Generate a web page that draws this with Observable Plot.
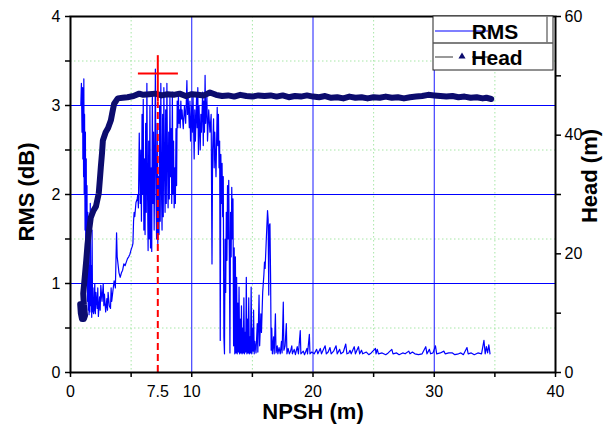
<!DOCTYPE html>
<html><head><meta charset="utf-8">
<script src="https://cdn.jsdelivr.net/npm/d3@7"></script>
<script src="https://cdn.jsdelivr.net/npm/@observablehq/plot@0.6"></script>
<style>body{margin:0;background:#fff} #chart{width:612px;height:427px}</style>
</head><body><div id="chart"></div>
<script>
// ---- data (NPSH m, RMS dB) ----
const rmsPoints = [
[0.85,3.0],[0.9,3.25],[0.95,2.7],[1.0,3.2],[1.02,2.4],[1.05,3.1],[1.08,2.2],[1.1,3.3],[1.13,2.0],[1.16,2.9],[1.2,1.6],[1.23,2.7],[1.26,1.3],[1.3,2.4],[1.33,1.0],[1.36,2.1],[1.4,0.8],[1.43,1.8],[1.46,0.7],[1.5,1.5],[1.53,0.65],[1.56,1.2],[1.6,0.68],[1.63,1.9],[1.66,0.75],[1.7,1.2],[1.75,0.62],[1.78,1.6],[1.82,0.68],[1.86,0.95],[1.9,0.66],
[1.95,0.7],[2.0,1.0],[2.05,0.66],[2.1,0.9],[2.2,0.72],[2.25,0.95],[2.3,0.63],[2.4,0.85],[2.45,0.7],[2.5,0.98],[2.6,0.8],[2.7,1.0],[2.75,0.75],[2.8,0.88],[2.9,0.68],[3.0,0.83],[3.05,0.7],[3.1,0.9],[3.2,0.75],[3.3,0.72],[3.35,0.95],[3.4,0.8],[3.5,0.92],[3.6,1.03],[3.7,0.95],[3.8,1.57],[3.85,1.3],[3.9,1.24],[4.0,1.12],[4.1,1.07],[4.2,1.12],[4.3,1.15],[4.4,1.22],[4.5,1.2],[4.6,1.24],[4.7,1.28],[4.8,1.3],[4.9,1.33],[5.0,1.38],[5.1,1.42],[5.15,1.45],[5.2,1.7],[5.25,1.8],[5.3,1.75],[5.4,1.91],[5.5,1.95],[5.55,2.0],[5.6,1.85],
[5.67,2.69],[5.75,1.9],[5.8,2.5],[5.85,1.7],[5.9,2.9],[5.95,2.0],[6.0,3.07],[6.05,1.6],[6.1,2.4],[6.15,1.55],[6.2,2.8],[6.25,1.8],[6.3,3.25],[6.35,2.1],[6.4,1.37],[6.45,2.6],[6.5,1.5],[6.55,3.0],[6.6,1.4],[6.65,2.3],[6.7,1.36],[6.75,3.15],[6.8,1.9],[6.85,2.7],[6.9,1.6],[6.95,2.4],[7.0,3.41],[7.05,2.0],[7.1,1.5],[7.15,2.8],[7.2,1.45],[7.25,2.2],[7.3,1.55],[7.35,3.0],[7.4,1.7],[7.45,3.25],[7.5,2.1],[7.55,1.6],[7.6,2.9],[7.65,1.75],[7.7,3.2],[7.75,2.3],[7.8,1.8],[7.85,2.95],[7.9,1.9],[7.95,3.25],[8.0,2.4],[8.05,1.85],[8.1,2.7],[8.15,1.95],[8.2,3.1],[8.25,2.2],[8.3,2.74],[8.35,1.9],[8.4,3.15],[8.45,2.0],[8.5,2.6],[8.55,1.85],[8.6,2.3],[8.65,1.9],[8.7,2.74],[8.75,2.1],[8.8,3.05],[8.85,2.75],[8.9,3.13],[8.95,2.8],[9.0,2.95],[9.05,2.75],[9.1,3.05],[9.15,2.85],[9.2,2.95],[9.3,2.74],[9.4,3.0],[9.5,2.8],[9.6,3.28],[9.65,2.9],[9.7,3.1],[9.8,2.75],[9.85,3.05],[9.9,2.6],[10.0,3.0],[10.05,2.7],[10.1,3.15],[10.2,2.4],[10.25,2.95],[10.3,2.6],[10.4,3.1],[10.45,2.75],[10.5,3.2],[10.55,2.45],[10.6,3.0],[10.7,2.5],[10.75,2.9],[10.8,2.7],[10.9,3.15],[10.95,2.55],[11.0,3.05],[11.05,2.7],[11.1,3.34],[11.15,2.8],[11.25,3.1],[11.3,2.6],[11.4,2.95],[11.5,2.7],[11.6,2.9],
[11.67,1.22],[11.72,2.5],[11.8,2.85],[11.85,2.3],[11.9,2.7],[12.0,2.2],[12.1,2.98],[12.15,2.55],[12.2,2.9],[12.25,2.3],[12.3,2.6],[12.35,0.36],[12.4,2.45],[12.45,1.9],[12.5,2.35],[12.55,1.75],[12.6,2.2],[12.65,0.4],[12.7,0.21],[12.75,1.5],[12.8,0.9],[12.85,1.8],[12.9,1.26],[12.95,2.1],[13.0,1.5],[13.05,2.16],[13.1,1.3],[13.15,0.22],[13.2,1.8],[13.25,1.3],[13.3,2.08],[13.35,1.5],[13.4,1.95],[13.45,0.3],[13.5,1.4],[13.55,0.21],[13.6,1.3],[13.65,0.22],[13.7,1.07],[13.75,0.21],[13.8,0.78],[13.85,0.23],[13.9,0.96],[13.95,0.21],[14.0,0.6],[14.05,0.22],[14.1,0.75],[14.15,0.21],[14.2,0.5],[14.25,0.22],[14.3,0.84],[14.35,0.21],[14.4,0.45],[14.45,0.23],[14.5,1.07],[14.55,0.21],[14.6,0.6],[14.65,0.22],[14.7,0.84],[14.75,0.21],[14.8,0.4],[14.85,0.22],[14.9,0.96],[14.95,0.21],[15.0,0.5],[15.05,0.24],[15.1,0.7],[15.15,0.21],[15.2,0.35],[15.3,0.22],[15.4,0.55],[15.45,0.23],[15.55,0.87],[15.6,0.3],[15.7,0.66],[15.75,0.45],[15.85,0.9],[15.95,1.1],[16.0,1.24],[16.05,1.17],[16.15,1.5],[16.25,1.82],[16.3,1.72],[16.35,0.87],[16.38,1.65],[16.45,1.67],[16.5,1.1],[16.55,0.25],[16.6,0.5],[16.65,0.21],[16.75,0.4],[16.8,0.21],[16.9,0.66],[16.95,0.22],[17.05,0.3],[17.1,0.21],[17.2,0.28],[17.3,0.21],[17.4,0.35],[17.45,0.22],[17.55,0.79],[17.6,0.25],[17.7,0.3],[17.8,0.55],[17.85,0.21],[17.95,0.27],[18.05,0.21],[18.15,0.24],[18.25,0.3],[18.3,0.21],[18.45,0.26],[18.55,0.2],[18.7,0.29],[18.8,0.21],[18.95,0.47],[19.0,0.21],[19.2,0.24],[19.3,0.2],[19.5,0.27],[19.55,0.21],[19.7,0.43],[19.75,0.21],[19.9,0.23],[20.1,0.21],[20.3,0.26],[20.4,0.21],[20.6,0.27],[20.7,0.21],
[21.0,0.3],[21.1,0.21],[21.25,0.23],[21.4,0.28],[21.5,0.21],[21.7,0.24],[21.9,0.3],[22.0,0.21],[22.2,0.26],[22.3,0.21],[22.5,0.23],[22.7,0.32],[22.8,0.21],[22.95,0.22],[23.05,0.25],[23.15,0.21],[23.4,0.29],[23.5,0.21],[23.75,0.29],[23.85,0.21],[24.0,0.25],[24.1,0.21],[24.4,0.23],[24.6,0.2],[24.8,0.22],[25.15,0.27],[25.2,0.21],[25.3,0.26],[25.4,0.21],[25.7,0.22],[26.0,0.2],[26.2,0.22],[26.5,0.26],[26.6,0.21],[26.9,0.22],[27.1,0.2],[27.4,0.22],[27.6,0.21],[27.9,0.24],[28.0,0.21],[28.2,0.23],[28.4,0.21],[28.7,0.2],[29.0,0.21],[29.3,0.29],[29.4,0.21],[29.6,0.26],[29.7,0.21],[29.9,0.22],[30.1,0.3],[30.2,0.21],[30.5,0.22],[30.8,0.24],[30.9,0.21],[31.2,0.22],[31.5,0.22],[31.7,0.2],[32.0,0.21],[32.2,0.22],[32.4,0.2],[32.7,0.28],[32.8,0.21],[33.05,0.22],[33.3,0.2],[33.6,0.22],[33.9,0.21],[34.1,0.36],[34.2,0.21],[34.3,0.29],[34.4,0.22],[34.5,0.31],[34.6,0.21]
];
// (NPSH m, Head m)
const headPoints = [
[0.8,11.5],[0.85,10.0],[0.95,9.0],[1.1,9.0],[1.2,9.6],[1.1,11.5],[1.05,13.3],[1.15,15.5],[1.3,18.9],[1.4,21.5],[1.5,23.4],[1.67,26.1],[1.9,27.3],[2.1,28.0],[2.33,30.2],[2.42,32.5],[2.5,34.6],[2.6,37.0],[2.67,39.1],[2.9,40.5],[3.1,41.2],[3.33,42.5],[3.45,43.8],[3.6,45.3],[3.9,46.2],[4.3,46.3],[4.7,46.4],[5.2,46.6],[5.67,47.0],
[6.0,46.8],[6.5,46.9],[7.0,47.0],[7.5,46.7],[8.0,46.9],[8.5,46.8],[9.0,47.0],[9.5,46.6],[10.0,46.9],[10.5,46.8],[11.0,46.7],[11.5,47.2],[12.0,46.8],[12.5,46.6],[13.0,46.7],[13.5,46.5],[14.0,46.8],[14.5,46.6],[15.0,46.5],[15.5,46.7],[16.0,46.6],[16.5,46.7],[17.0,46.5],[17.5,46.7],[18.0,46.4],[18.5,46.6],[19.0,46.5],[19.5,46.7],[20.0,46.5],[20.5,46.4],[21.0,46.6],[21.5,46.3],[22.0,46.4],[22.5,46.2],[23.0,46.5],[23.5,46.3],[24.0,46.4],[24.5,46.2],[25.0,46.4],[25.5,46.3],[26.0,46.5],[26.5,46.3],[27.0,46.4],[27.5,46.2],[28.0,46.4],[28.5,46.5],[29.0,46.6],[29.5,46.8],[30.0,46.7],[30.5,46.6],[31.0,46.5],[31.5,46.6],[32.0,46.4],[32.5,46.5],[33.0,46.3],[33.5,46.4],[34.0,46.2],[34.3,46.3],[34.7,46.1]
];
const criticalNpsh = 7.2;           // position of the red marker
const criticalLabel = "7.5";        // its tick label
const crossSpan = [5.6, 8.9];       // horizontal bar of the red cross (NPSH)
const crossLevel = 3.36;            // RMS of the horizontal bar
const crossTop = 3.56;              // top of the vertical red line (RMS)
const crossSolidEnd = 3.04;         // where the dashed part starts (RMS)
const xTicks = [0,5,10,15,20,25,30,35,40];
const xLabels = [0,10,20,30,40];
const yTicks = [0,0.5,1,1.5,2,2.5,3,3.5,4];
const yMajor = [1,2,3];
const yMinor = [0.5,1.5,2.5,3.5];
const xMajor = [10,20,30];
const xMinor = [5,15,25,35];
const headTicks = [0,10,20,30,40,50,60];
const headLabels = [0,20,40,60];
const headMax = 60, rmsMax = 4;
const h2y = h => h * rmsMax / headMax;

const F = "'Liberation Sans', Arial, sans-serif";
const plot = Plot.plot({
  width: 612, height: 427,
  marginLeft: 70, marginRight: 57, marginTop: 16, marginBottom: 55,
  x: {domain: [0, 40]},
  y: {domain: [0, 4]},
  style: {fontFamily: F, fontSize: "16px", background: "#fff", color: "#000"},
  marks: [
    Plot.ruleX(xMinor, {stroke: "#a6e6a6", strokeDasharray: "1.5,2.5", strokeWidth: 1}),
    Plot.ruleY(yMinor, {stroke: "#a6e6a6", strokeDasharray: "1.5,2.5", strokeWidth: 1}),
    Plot.ruleX(xMajor, {stroke: "#1a1aff", strokeWidth: 1}),
    Plot.ruleY(yMajor, {stroke: "#0000ff", strokeWidth: 1}),
    Plot.line(rmsPoints, {x: d => d[0], y: d => d[1], stroke: "#0000ff", strokeWidth: 1.2, strokeLinejoin: "round"}),
    Plot.line(headPoints, {x: d => d[0], y: d => h2y(d[1]), stroke: "#0c0c6e", strokeWidth: 6, strokeLinejoin: "round", strokeLinecap: "round"}),
    Plot.ruleX([criticalNpsh], {y1: 0, y2: crossSolidEnd, stroke: "#ff0000", strokeWidth: 2, strokeDasharray: "7,4"}),
    Plot.ruleX([criticalNpsh], {y1: crossSolidEnd, y2: crossTop, stroke: "#ff0000", strokeWidth: 2}),
    Plot.ruleY([crossLevel], {x1: crossSpan[0], x2: crossSpan[1], stroke: "#ff0000", strokeWidth: 2}),
    Plot.frame({stroke: "#000", strokeWidth: 2}),
    Plot.axisY(yTicks, {anchor: "left", tickSize: 5, tickPadding: 5, tickFormat: d => Number.isInteger(d) ? d : "", label: null, strokeWidth: 1.5}),
    Plot.axisX(xTicks, {anchor: "bottom", tickSize: 5, tickPadding: 8, tickFormat: d => xLabels.includes(d) ? d : "", label: null, strokeWidth: 1.5}),
    Plot.axisX([criticalNpsh], {anchor: "bottom", tickSize: 0, tickPadding: 13, tickFormat: () => criticalLabel, label: null}),
    Plot.axisY(headTicks.map(h2y), {anchor: "right", tickSize: 5, tickPadding: 4, tickFormat: d => { const h = Math.round(d * headMax / rmsMax); return headLabels.includes(h) ? h : ""; }, label: null, strokeWidth: 1.5})
  ]
});
document.getElementById("chart").appendChild(plot);

// axis titles and legend
const svg = d3.select(plot);
const title = (x, y, rot, txt) => svg.append("text")
  .attr("transform", `translate(${x},${y}) rotate(${rot})`)
  .attr("text-anchor", "middle").attr("dominant-baseline", "central")
  .style("font-family", F).style("font-size", "22px").style("font-weight", "bold").attr("fill", "#000").text(txt);
title(26, 192, -90, "RMS (dB)");
title(313, 411, 0, "NPSH (m)");
title(589, 176, -90, "Head (m)");

const lg = svg.append("g");
lg.append("rect").attr("x", 433).attr("y", 16).attr("width", 120).attr("height", 54).attr("fill", "#fff").attr("stroke", "#222").attr("stroke-width", 1);
lg.append("line").attr("x1", 433).attr("x2", 553).attr("y1", 43).attr("y2", 43).attr("stroke", "#555").attr("stroke-width", 1.5);
lg.append("line").attr("x1", 547).attr("x2", 547).attr("y1", 16).attr("y2", 43).attr("stroke", "#777").attr("stroke-width", 1.5);
lg.append("line").attr("x1", 435).attr("x2", 488).attr("y1", 31).attr("y2", 31).attr("stroke", "#0000ff").attr("stroke-width", 1.2);
lg.append("line").attr("x1", 435).attr("x2", 453).attr("y1", 57).attr("y2", 57).attr("stroke", "#777").attr("stroke-width", 1.5);
lg.append("line").attr("x1", 472).attr("x2", 488).attr("y1", 57).attr("y2", 57).attr("stroke", "#777").attr("stroke-width", 1.5);
lg.append("path").attr("d", d3.symbol(d3.symbolTriangle, 22)()).attr("transform", "translate(462,56.5)").attr("fill", "#0c0c6e");
lg.append("text").attr("x", 495).attr("y", 38.5).style("font-family", F).style("font-size", "21px").style("font-weight", "bold").text("RMS");
lg.append("text").attr("x", 497).attr("y", 64.5).style("font-family", F).style("font-size", "21px").style("font-weight", "bold").text("Head");
</script></body></html>
